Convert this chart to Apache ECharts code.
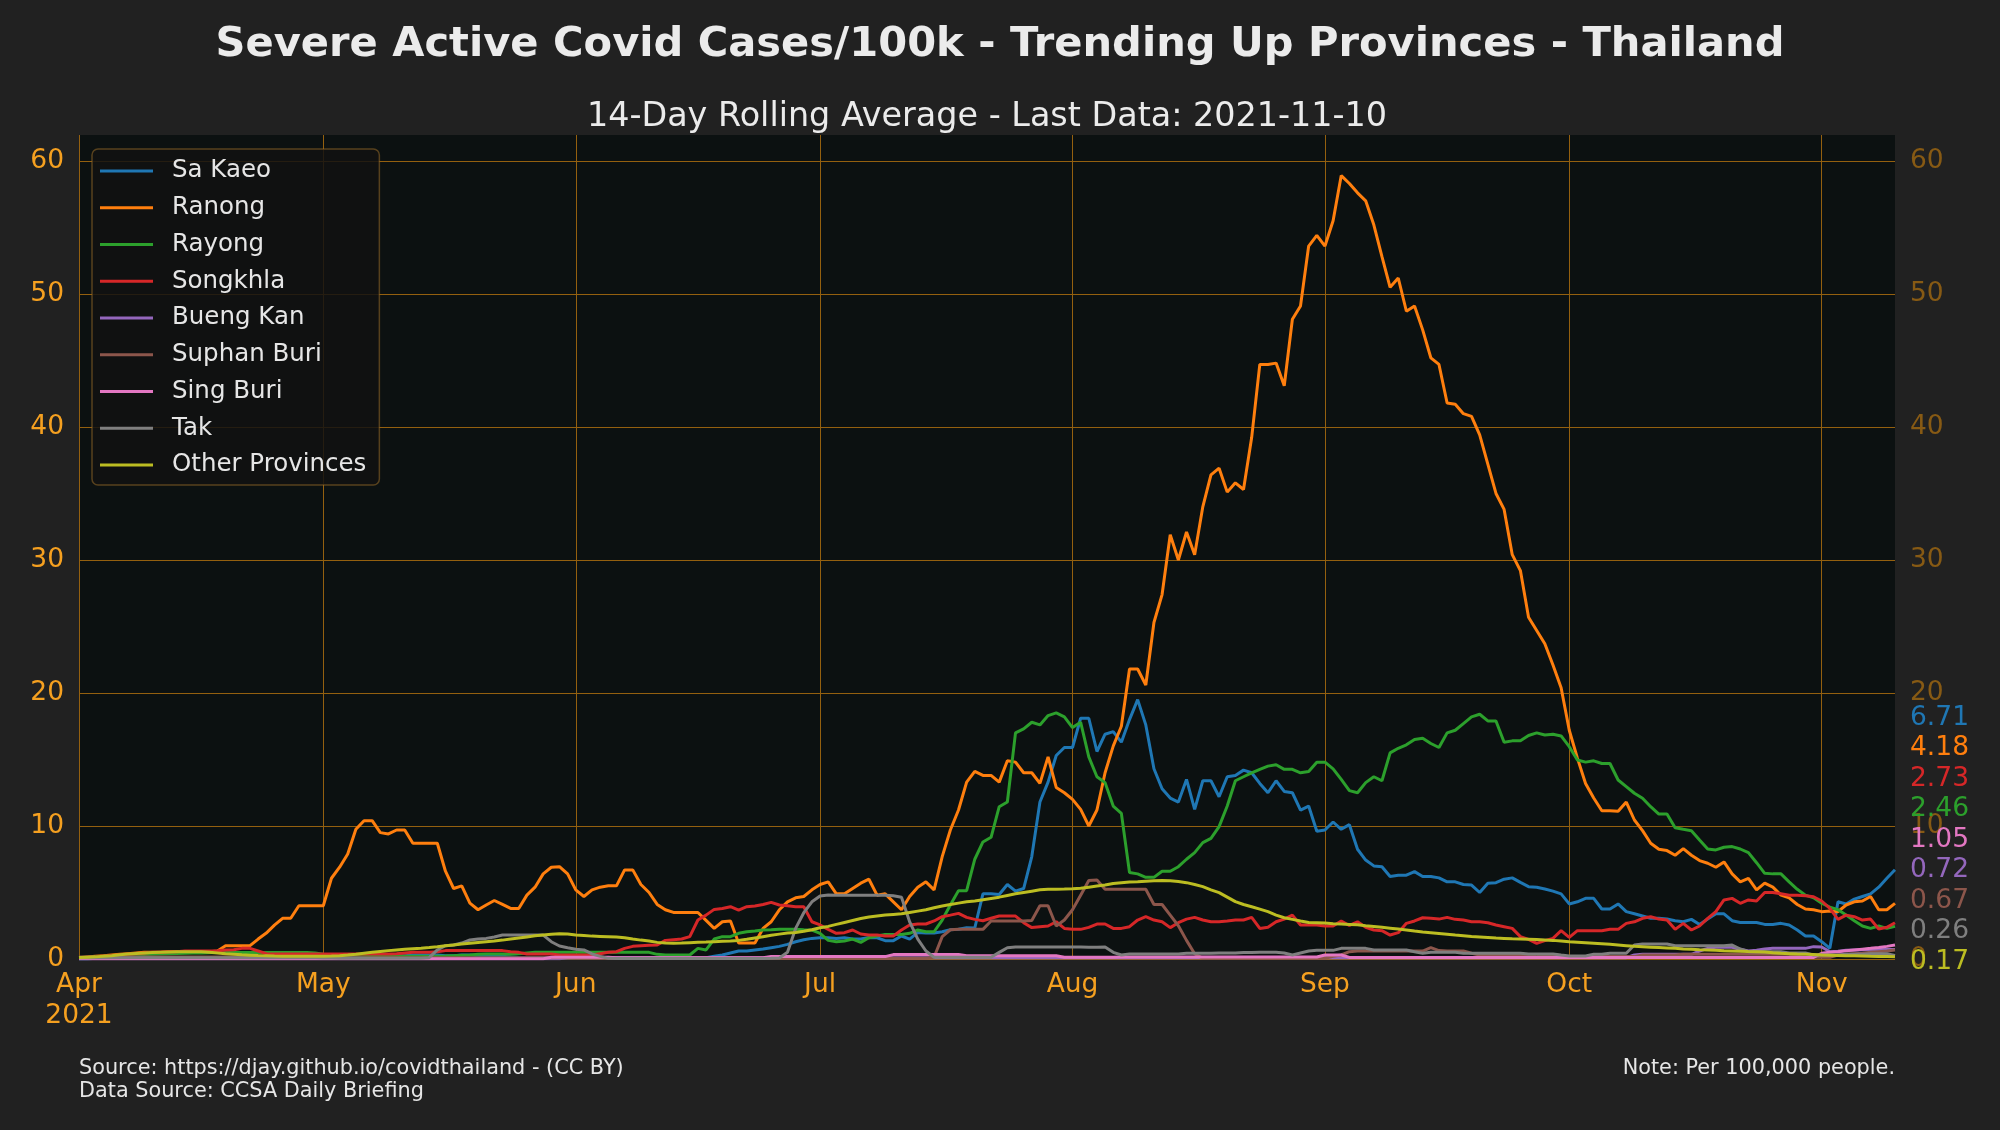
<!DOCTYPE html>
<html>
<head>
<meta charset="utf-8">
<script src="https://cdn.jsdelivr.net/npm/echarts@6/dist/echarts.min.js"></script>
<style>
html,body{margin:0;padding:0;background:#212121;}
#c{width:2000px;height:1130px;}
</style>
</head>
<body>
<div id="c"></div>
<script>
// ---------------- DATA ----------------
const startDate = '2021-04-01';
const dayCount = 224; // 2021-04-01 .. 2021-11-10
const monthStarts = ['2021-04-01','2021-05-01','2021-06-01','2021-07-01','2021-08-01','2021-09-01','2021-10-01','2021-11-01'];
const monthLabels = ['Apr\n2021','May','Jun','Jul','Aug','Sep','Oct','Nov'];
const seriesNames = ['Sa Kaeo','Ranong','Rayong','Songkhla','Bueng Kan','Suphan Buri','Sing Buri','Tak','Other Provinces'];
const seriesColors = ['#1f77b4','#ff7f0e','#2ca02c','#d62728','#9467bd','#8c564b','#e377c2','#7f7f7f','#bcbd22'];

const saKaeo = [
0.0,0.0,0.05,0.05,0.05,0.05,0.05,0.05,0.05,0.05,
0.05,0.05,0.05,0.1,0.1,0.1,0.1,0.1,0.1,0.1,
0.1,0.1,0.1,0.1,0.1,0.1,0.1,0.1,0.1,0.1,
0.1,0.1,0.12,0.15,0.15,0.18,0.2,0.22,0.25,0.25,
0.25,0.3,0.3,0.3,0.3,0.25,0.25,0.3,0.3,0.25,
0.25,0.25,0.2,0.15,0.12,0.1,0.1,0.1,0.1,0.1,
0.1,0.1,0.1,0.1,0.1,0.1,0.1,0.1,0.1,0.1,
0.1,0.1,0.1,0.1,0.05,0.05,0.08,0.1,0.2,0.3,
0.45,0.6,0.6,0.68,0.75,0.85,0.95,1.1,1.3,1.45,
1.55,1.6,1.6,1.55,1.6,1.5,1.5,1.62,1.6,1.38,
1.38,1.73,1.5,2.0,1.95,1.95,2.05,2.2,2.23,2.35,
2.33,4.9,4.9,4.85,5.6,5.1,5.3,7.7,11.8,13.3,
15.3,15.9,15.9,18.1,18.1,15.6,16.9,17.1,16.3,18.0,
19.5,17.6,14.3,12.8,12.1,11.8,13.5,11.25,13.4,13.4,
12.2,13.7,13.8,14.2,14.0,13.2,12.5,13.4,12.6,12.5,
11.2,11.5,9.6,9.7,10.3,9.75,10.1,8.25,7.44,7.0,
6.94,6.2,6.3,6.3,6.57,6.2,6.2,6.1,5.8,5.8,
5.6,5.56,5.0,5.7,5.74,6.0,6.1,5.76,5.44,5.4,
5.26,5.1,4.9,4.14,4.3,4.56,4.56,3.76,3.76,4.14,
3.56,3.4,3.23,3.06,3.06,3.0,2.88,2.8,2.98,2.6,
3.0,3.4,3.4,2.88,2.75,2.75,2.75,2.6,2.6,2.68,
2.55,2.18,1.73,1.73,1.3,0.8,4.3,4.14,4.5,4.7,
4.9,5.4,6.07,6.71];

const ranong = [
0.1,0.15,0.2,0.25,0.3,0.35,0.4,0.45,0.5,0.5,
0.5,0.55,0.55,0.55,0.55,0.55,0.55,0.6,1.0,1.0,
1.0,1.0,1.5,1.95,2.55,3.06,3.06,4.0,4.0,4.0,
4.0,6.07,6.9,7.9,9.75,10.4,10.4,9.5,9.4,9.7,
9.7,8.7,8.7,8.7,8.7,6.6,5.3,5.5,4.2,3.7,
4.06,4.4,4.1,3.8,3.8,4.8,5.4,6.4,6.9,6.94,
6.4,5.2,4.7,5.2,5.4,5.5,5.5,6.7,6.7,5.6,
5.0,4.1,3.7,3.5,3.5,3.5,3.5,2.9,2.3,2.8,
2.85,1.2,1.2,1.2,2.3,2.8,3.7,4.3,4.6,4.7,
5.2,5.6,5.8,4.9,4.9,5.3,5.7,6.0,4.8,4.9,
4.3,3.7,4.7,5.4,5.8,5.2,7.7,9.7,11.2,13.3,
14.1,13.8,13.8,13.3,14.9,14.8,14.0,14.0,13.2,15.2,
12.9,12.5,12.0,11.25,10.0,11.2,14.0,16.0,17.5,21.8,
21.8,20.6,25.3,27.4,31.9,30.0,32.1,30.4,34.0,36.4,
36.9,35.1,35.8,35.3,39.2,44.7,44.7,44.8,43.1,48.1,
49.1,53.6,54.4,53.6,55.5,58.9,58.3,57.6,57.0,55.2,
52.8,50.5,51.2,48.7,49.1,47.3,45.2,44.7,41.8,41.7,
41.0,40.8,39.4,37.2,35.0,33.8,30.4,29.2,25.7,24.7,
23.7,22.1,20.4,17.2,15.1,13.2,12.1,11.15,11.15,11.1,
11.8,10.45,9.65,8.7,8.25,8.15,7.8,8.3,7.8,7.4,
7.2,6.9,7.3,6.4,5.8,6.07,5.2,5.7,5.4,4.8,
4.6,4.1,3.76,3.7,3.56,3.6,3.56,4.06,4.3,4.36,
4.7,3.7,3.7,4.18];

const rayong = [
0.1,0.12,0.15,0.2,0.22,0.25,0.28,0.3,0.33,0.35,
0.38,0.4,0.42,0.44,0.45,0.46,0.47,0.48,0.48,0.48,
0.48,0.48,0.48,0.48,0.48,0.48,0.48,0.48,0.48,0.45,
0.35,0.32,0.3,0.3,0.3,0.28,0.25,0.22,0.2,0.2,
0.2,0.2,0.2,0.2,0.2,0.22,0.25,0.28,0.3,0.35,
0.38,0.38,0.38,0.35,0.4,0.45,0.5,0.5,0.5,0.5,
0.5,0.5,0.5,0.5,0.5,0.5,0.5,0.5,0.5,0.5,
0.5,0.35,0.3,0.3,0.3,0.3,0.8,0.68,1.5,1.68,
1.68,1.93,2.05,2.1,2.18,2.2,2.23,2.23,2.23,2.2,
2.18,1.93,1.4,1.3,1.35,1.5,1.25,1.6,1.73,1.85,
1.85,1.85,1.93,2.18,2.05,2.05,2.93,4.06,5.14,5.14,
7.5,8.8,9.15,11.45,11.8,17.0,17.3,17.8,17.6,18.3,
18.5,18.2,17.4,17.8,15.2,13.7,13.26,11.5,10.95,6.5,
6.4,6.14,6.14,6.6,6.6,6.94,7.5,8.0,8.75,9.07,
9.95,11.5,13.4,13.7,14.0,14.26,14.5,14.6,14.26,14.26,
14.0,14.1,14.8,14.8,14.3,13.5,12.66,12.5,13.26,13.7,
13.4,15.5,15.84,16.1,16.5,16.6,16.2,15.9,17.0,17.2,
17.7,18.2,18.4,17.9,17.9,16.3,16.4,16.4,16.8,17.0,
16.84,16.9,16.77,15.96,14.96,14.8,14.9,14.7,14.7,13.46,
12.96,12.46,12.08,11.45,10.9,10.9,9.87,9.75,9.65,8.95,
8.27,8.2,8.4,8.45,8.27,8.0,7.24,6.44,6.4,6.4,
5.8,5.24,4.8,4.6,4.2,3.9,3.7,3.3,2.88,2.48,
2.3,2.48,2.3,2.46];

const songkhla = [
0.1,0.12,0.15,0.2,0.25,0.3,0.35,0.4,0.45,0.5,
0.5,0.55,0.55,0.6,0.6,0.6,0.6,0.62,0.68,0.7,
0.8,0.8,0.6,0.4,0.38,0.38,0.38,0.38,0.38,0.38,
0.38,0.38,0.38,0.38,0.38,0.38,0.38,0.38,0.38,0.4,
0.45,0.5,0.5,0.5,0.55,0.63,0.63,0.63,0.63,0.63,
0.63,0.63,0.63,0.55,0.5,0.38,0.38,0.38,0.38,0.3,
0.3,0.3,0.3,0.3,0.4,0.5,0.55,0.8,0.95,1.0,
1.03,1.05,1.4,1.45,1.5,1.68,2.93,3.3,3.73,3.8,
3.93,3.68,3.93,3.98,4.1,4.26,4.06,4.0,3.93,3.93,
2.8,2.56,2.23,1.93,1.98,2.18,1.88,1.8,1.8,1.73,
1.73,2.18,2.56,2.63,2.63,2.86,3.18,3.3,3.43,3.13,
2.98,2.88,3.06,3.23,3.23,3.23,2.73,2.36,2.43,2.48,
2.8,2.3,2.23,2.23,2.38,2.63,2.63,2.3,2.3,2.43,
2.93,3.18,2.93,2.8,2.36,2.73,3.0,3.13,2.93,2.8,
2.8,2.86,2.93,2.93,3.13,2.3,2.38,2.8,3.0,3.3,
2.56,2.56,2.56,2.48,2.48,2.86,2.52,2.8,2.38,2.18,
2.13,1.8,1.98,2.68,2.86,3.1,3.06,3.0,3.13,2.98,
2.93,2.8,2.8,2.73,2.56,2.43,2.3,1.68,1.48,1.18,
1.38,1.55,2.13,1.63,2.13,2.13,2.13,2.13,2.23,2.23,
2.68,2.8,3.06,3.18,3.0,2.93,2.23,2.68,2.18,2.48,
3.06,3.56,4.44,4.56,4.19,4.44,4.36,5.0,5.0,4.9,
4.8,4.8,4.76,4.68,4.36,3.8,2.98,3.3,3.18,2.93,
3.0,2.26,2.38,2.73];

const buengKan = [
0.02,0.02,0.02,0.02,0.02,0.02,0.02,0.02,0.02,0.02,
0.02,0.02,0.02,0.02,0.02,0.02,0.02,0.02,0.02,0.02,
0.02,0.02,0.02,0.02,0.02,0.02,0.02,0.02,0.02,0.02,
0.02,0.02,0.02,0.02,0.02,0.02,0.02,0.02,0.02,0.02,
0.02,0.02,0.02,0.02,0.02,0.02,0.02,0.02,0.02,0.02,
0.02,0.02,0.02,0.02,0.02,0.02,0.02,0.02,0.02,0.02,
0.1,0.1,0.1,0.1,0.1,0.1,0.1,0.1,0.1,0.1,
0.1,0.1,0.1,0.1,0.1,0.1,0.1,0.1,0.1,0.1,
0.1,0.1,0.1,0.1,0.1,0.1,0.1,0.1,0.1,0.1,
0.1,0.1,0.1,0.1,0.1,0.1,0.1,0.1,0.1,0.1,
0.1,0.1,0.1,0.1,0.1,0.1,0.1,0.1,0.1,0.1,
0.1,0.1,0.1,0.1,0.1,0.1,0.1,0.1,0.1,0.1,
0.1,0.1,0.1,0.1,0.1,0.1,0.1,0.1,0.1,0.1,
0.1,0.1,0.1,0.1,0.1,0.1,0.1,0.1,0.1,0.1,
0.1,0.1,0.1,0.1,0.1,0.1,0.1,0.1,0.1,0.1,
0.1,0.1,0.1,0.1,0.1,0.1,0.1,0.1,0.1,0.1,
0.1,0.1,0.1,0.1,0.1,0.1,0.1,0.1,0.1,0.1,
0.1,0.1,0.1,0.1,0.1,0.1,0.1,0.1,0.1,0.1,
0.1,0.1,0.1,0.1,0.1,0.1,0.1,0.1,0.1,0.1,
0.1,0.3,0.35,0.35,0.35,0.35,0.35,0.35,0.35,0.6,
0.8,0.88,0.88,0.88,0.73,0.6,0.65,0.75,0.8,0.8,
0.8,0.8,0.8,0.93,0.9,0.55,0.58,0.65,0.68,0.7,
0.72,0.72,0.72,0.72];

const suphanBuri = [
0.15,0.15,0.15,0.15,0.15,0.15,0.15,0.15,0.15,0.15,
0.15,0.15,0.15,0.15,0.15,0.15,0.15,0.15,0.15,0.15,
0.15,0.15,0.15,0.15,0.15,0.15,0.15,0.15,0.15,0.15,
0.1,0.1,0.1,0.1,0.1,0.1,0.1,0.1,0.1,0.1,
0.1,0.1,0.1,0.1,0.1,0.1,0.1,0.1,0.1,0.1,
0.1,0.1,0.1,0.1,0.1,0.1,0.1,0.1,0.1,0.1,
0.1,0.05,0.05,0.05,0.05,0.05,0.05,0.05,0.05,0.05,
0.05,0.05,0.05,0.05,0.05,0.05,0.05,0.05,0.05,0.05,
0.05,0.05,0.05,0.05,0.05,0.05,0.05,0.05,0.05,0.05,
0.05,0.05,0.05,0.05,0.05,0.05,0.05,0.05,0.05,0.05,
0.05,0.05,0.05,0.05,0.05,0.13,1.68,2.2,2.23,2.23,
2.23,2.23,2.86,2.86,2.86,2.86,2.86,2.9,4.0,4.0,
2.48,2.93,3.7,4.8,5.9,5.94,5.24,5.24,5.24,5.24,
5.24,5.24,4.1,4.1,3.3,2.5,1.4,0.4,0.05,0.05,
0.05,0.05,0.05,0.05,0.05,0.05,0.05,0.05,0.05,0.05,
0.05,0.05,0.05,0.05,0.2,0.3,0.55,0.6,0.6,0.6,
0.6,0.6,0.6,0.6,0.6,0.6,0.85,0.63,0.6,0.6,
0.6,0.43,0.3,0.3,0.3,0.3,0.3,0.3,0.3,0.18,
0.18,0.18,0.18,0.18,0.18,0.18,0.18,0.18,0.18,0.18,
0.18,0.18,0.3,0.3,0.3,0.3,0.3,0.35,0.35,0.35,
0.35,0.35,0.35,0.35,0.35,0.35,0.35,0.35,0.35,0.35,
0.35,0.2,0.13,0.13,0.13,0.13,0.3,0.35,0.4,0.43,
0.5,0.55,0.6,0.67];

const singBuri = [
0.02,0.02,0.02,0.02,0.02,0.02,0.02,0.02,0.02,0.02,
0.02,0.02,0.02,0.02,0.02,0.02,0.02,0.02,0.02,0.02,
0.02,0.02,0.02,0.02,0.02,0.02,0.02,0.02,0.02,0.02,
0.02,0.02,0.02,0.02,0.02,0.02,0.02,0.02,0.02,0.02,
0.02,0.02,0.02,0.02,0.02,0.02,0.02,0.02,0.02,0.02,
0.02,0.02,0.02,0.02,0.02,0.02,0.02,0.02,0.13,0.13,
0.13,0.13,0.13,0.13,0.13,0.13,0.1,0.1,0.1,0.1,
0.1,0.1,0.1,0.1,0.1,0.1,0.1,0.1,0.1,0.1,
0.1,0.1,0.1,0.1,0.1,0.18,0.18,0.18,0.18,0.18,
0.18,0.18,0.18,0.18,0.18,0.18,0.18,0.18,0.18,0.18,
0.33,0.33,0.33,0.33,0.33,0.33,0.33,0.33,0.33,0.25,
0.25,0.25,0.25,0.25,0.25,0.25,0.25,0.25,0.25,0.25,
0.25,0.13,0.13,0.13,0.13,0.13,0.13,0.13,0.15,0.15,
0.15,0.15,0.15,0.15,0.15,0.15,0.15,0.15,0.15,0.15,
0.15,0.15,0.15,0.15,0.15,0.15,0.15,0.15,0.15,0.15,
0.15,0.15,0.15,0.3,0.3,0.3,0.12,0.12,0.12,0.12,
0.12,0.12,0.12,0.12,0.12,0.12,0.12,0.12,0.12,0.12,
0.12,0.12,0.12,0.12,0.12,0.12,0.12,0.12,0.12,0.12,
0.12,0.12,0.12,0.12,0.12,0.12,0.12,0.12,0.12,0.12,
0.12,0.12,0.12,0.12,0.12,0.12,0.12,0.12,0.12,0.12,
0.12,0.12,0.12,0.12,0.12,0.12,0.12,0.12,0.12,0.12,
0.12,0.12,0.12,0.12,0.43,0.5,0.55,0.62,0.68,0.74,
0.8,0.87,0.95,1.05];

const tak = [
0.1,0.1,0.1,0.1,0.1,0.1,0.1,0.1,0.1,0.1,
0.1,0.1,0.1,0.1,0.1,0.1,0.1,0.1,0.1,0.1,
0.1,0.1,0.1,0.1,0.1,0.1,0.1,0.1,0.1,0.1,
0.08,0.08,0.06,0.06,0.05,0.05,0.05,0.05,0.05,0.05,
0.05,0.05,0.05,0.1,0.68,1.0,1.05,1.2,1.43,1.5,
1.55,1.65,1.8,1.8,1.8,1.8,1.8,1.8,1.3,0.98,
0.85,0.73,0.68,0.38,0.2,0.05,0.03,0.03,0.03,0.03,
0.03,0.03,0.03,0.03,0.03,0.03,0.03,0.03,0.03,0.03,
0.03,0.03,0.03,0.03,0.03,0.05,0.08,0.5,2.3,3.48,
4.3,4.74,4.81,4.8,4.8,4.8,4.8,4.8,4.8,4.8,
4.75,4.64,2.8,1.5,0.6,0.13,0.13,0.13,0.13,0.13,
0.13,0.13,0.13,0.5,0.85,0.9,0.9,0.9,0.9,0.9,
0.9,0.9,0.9,0.9,0.88,0.88,0.9,0.5,0.3,0.38,
0.38,0.38,0.38,0.38,0.38,0.38,0.43,0.43,0.43,0.43,
0.45,0.45,0.45,0.48,0.48,0.5,0.5,0.5,0.45,0.3,
0.45,0.6,0.65,0.65,0.65,0.8,0.8,0.8,0.8,0.68,
0.68,0.68,0.68,0.68,0.55,0.43,0.5,0.5,0.5,0.5,
0.43,0.43,0.43,0.43,0.43,0.43,0.43,0.43,0.38,0.38,
0.38,0.38,0.3,0.23,0.23,0.23,0.35,0.35,0.43,0.43,
0.43,1.05,1.13,1.13,1.13,1.13,1.0,1.0,1.0,1.0,
1.0,1.0,1.0,1.05,0.75,0.55,0.55,0.55,0.55,0.55,
0.45,0.45,0.45,0.3,0.3,0.3,0.3,0.35,0.35,0.35,
0.4,0.4,0.4,0.26];

const otherProvinces = [
0.12,0.14,0.16,0.2,0.25,0.32,0.38,0.42,0.46,0.49,
0.51,0.53,0.54,0.55,0.55,0.54,0.5,0.45,0.4,0.36,
0.32,0.29,0.26,0.24,0.22,0.21,0.2,0.2,0.2,0.2,
0.21,0.22,0.25,0.3,0.36,0.43,0.5,0.57,0.63,0.68,
0.73,0.77,0.81,0.86,0.92,0.99,1.06,1.12,1.18,1.24,
1.3,1.35,1.42,1.5,1.58,1.66,1.74,1.8,1.86,1.9,
1.88,1.8,1.76,1.72,1.7,1.68,1.65,1.6,1.5,1.42,
1.35,1.25,1.2,1.18,1.2,1.23,1.25,1.27,1.3,1.33,
1.36,1.4,1.48,1.58,1.68,1.78,1.87,1.95,2.0,2.08,
2.2,2.35,2.45,2.6,2.75,2.9,3.05,3.15,3.23,3.3,
3.35,3.4,3.5,3.6,3.7,3.85,3.98,4.1,4.2,4.3,
4.36,4.45,4.55,4.65,4.78,4.9,5.0,5.1,5.2,5.24,
5.25,5.26,5.28,5.32,5.4,5.48,5.56,5.68,5.74,5.78,
5.81,5.85,5.88,5.9,5.88,5.82,5.74,5.6,5.44,5.2,
4.99,4.65,4.31,4.1,3.93,3.75,3.56,3.3,3.1,2.98,
2.86,2.75,2.73,2.7,2.65,2.63,2.6,2.57,2.5,2.44,
2.38,2.32,2.25,2.18,2.1,2.03,1.98,1.92,1.86,1.8,
1.75,1.7,1.66,1.62,1.57,1.55,1.52,1.5,1.48,1.46,
1.43,1.4,1.35,1.3,1.26,1.22,1.18,1.14,1.1,1.05,
1.0,0.95,0.92,0.89,0.86,0.83,0.8,0.76,0.73,0.7,
0.68,0.65,0.62,0.6,0.58,0.56,0.55,0.52,0.47,0.43,
0.4,0.37,0.35,0.33,0.3,0.29,0.27,0.25,0.24,0.22,
0.2,0.19,0.18,0.17];

const yTickValues = [0,10,20,30,40,50,60];
const titleText = 'Severe Active Covid Cases/100k - Trending Up Provinces - Thailand';
const subtitleText = '14-Day Rolling Average - Last Data: 2021-11-10';
const footLeft1 = 'Source: https://djay.github.io/covidthailand - (CC BY)';
const footLeft2 = 'Data Source: CCSA Daily Briefing';
const footRight = 'Note: Per 100,000 people.';

// ---------------- BUILD ----------------
const seriesData = [saKaeo, ranong, rayong, songkhla, buengKan, suphanBuri, singBuri, tak, otherProvinces];
const dates = [];
{
  const d0 = new Date(startDate + 'T00:00:00Z');
  for (let i = 0; i < dayCount; i++) {
    const d = new Date(d0.getTime() + i * 86400000);
    dates.push(d.toISOString().slice(0, 10));
  }
}
const isMonthStart = (v) => monthStarts.indexOf(v) >= 0;
const FONT = '"DejaVu Sans", "Noto Sans", sans-serif';
const PLOT_L = 79, PLOT_R = 1895, PLOT_T = 135, PLOT_B = 959;

const chart = echarts.init(document.getElementById('c'), null, {renderer: 'canvas'});
const option = {
  animation: false,
  backgroundColor: '#212121',
  textStyle: {fontFamily: FONT},
  title: [
    {text: titleText, left: 1000, top: 24, textAlign: 'center', padding: 0,
     textStyle: {color: '#ebebeb', fontSize: 41.6, fontWeight: 'bold', lineHeight: 41.6, fontFamily: FONT}},
    {text: subtitleText, left: (PLOT_L + PLOT_R) / 2, top: 101, textAlign: 'center', padding: 0,
     textStyle: {color: '#ebebeb', fontSize: 33.4, fontWeight: 'normal', lineHeight: 33.4, fontFamily: FONT}},
    {text: footLeft1, left: PLOT_L, top: 1058, padding: 0,
     textStyle: {color: '#e6e6e6', fontSize: 20.8, fontWeight: 'normal', lineHeight: 20.8, fontFamily: FONT}},
    {text: footLeft2, left: PLOT_L, top: 1081, padding: 0,
     textStyle: {color: '#e6e6e6', fontSize: 20.8, fontWeight: 'normal', lineHeight: 20.8, fontFamily: FONT}},
    {text: footRight, right: 2000 - PLOT_R, top: 1058, padding: 0,
     textStyle: {color: '#e6e6e6', fontSize: 20.8, fontWeight: 'normal', lineHeight: 20.8, fontFamily: FONT}}
  ],
  grid: {left: PLOT_L, right: 2000 - PLOT_R, top: PLOT_T, bottom: 1130 - PLOT_B,
         show: true, backgroundColor: '#0c1111', borderWidth: 0, containLabel: false},
  legend: {
    orient: 'vertical', left: 92, top: 149,
    padding: [7, 13, 5, 8],
    itemGap: 6.75, itemWidth: 53, itemHeight: 3, icon: 'rect',
    backgroundColor: 'rgba(18,18,18,0.85)', borderColor: 'rgba(150,105,40,0.55)',
    borderWidth: 1.5, borderRadius: 6,
    textStyle: {color: '#e6e6e6', fontSize: 24.5, lineHeight: 30, padding: [0, 0, 0, 14], fontFamily: FONT},
    data: seriesNames
  },
  xAxis: {
    type: 'category', data: dates, boundaryGap: false,
    axisLine: {show: false}, axisTick: {show: false},
    axisLabel: {
      interval: (i, v) => isMonthStart(v),
      formatter: (v) => { const k = monthStarts.indexOf(v); return k >= 0 ? monthLabels[k] : ''; },
      color: '#f5a020', fontSize: 26.5, lineHeight: 31, margin: 11, fontFamily: FONT
    },
    splitLine: {show: true, interval: (i, v) => isMonthStart(v), lineStyle: {color: '#94600f', width: 1}}
  },
  yAxis: [
    {type: 'value', position: 'left', min: 0, max: 61.95, interval: 10,
     axisLine: {show: false}, axisTick: {show: false},
     axisLabel: {color: '#f5a020', fontSize: 26.5, margin: 15, showMaxLabel: false, fontFamily: FONT,
                 formatter: (v) => yTickValues.indexOf(v) >= 0 ? String(v) : ''},
     splitLine: {show: true, showMaxLine: false, lineStyle: {color: '#94600f', width: 1}}},
    {type: 'value', position: 'right', min: 0, max: 61.95, interval: 10,
     axisLine: {show: false}, axisTick: {show: false},
     axisLabel: {color: '#875a14', fontSize: 26.5, margin: 15, showMaxLabel: false, fontFamily: FONT,
                 formatter: (v) => yTickValues.indexOf(v) >= 0 ? String(v) : ''},
     splitLine: {show: false}}
  ],
  series: seriesNames.map((n, i) => ({
    name: n, type: 'line', data: seriesData[i], yAxisIndex: 0,
    symbol: 'none', showSymbol: false, smooth: false,
    lineStyle: {color: seriesColors[i], width: 3},
    itemStyle: {color: seriesColors[i]},
    emphasis: {disabled: true}
  }))
};
chart.setOption(option);

// end-of-line value labels, stacked upward to avoid overlap
const ends = seriesData.map((d, i) => ({v: d[d.length - 1], c: seriesColors[i]}));
ends.sort((a, b) => a.v - b.v);
let prevY = null;
const labels = [];
ends.forEach((o) => {
  let y = chart.convertToPixel({yAxisIndex: 0}, o.v) + 5;
  if (prevY !== null && y > prevY - 30.5) y = prevY - 30.5;
  prevY = y;
  labels.push({type: 'text', x: PLOT_R + 15, y: y, z: 100,
    style: {text: o.v.toFixed(2), fill: o.c, fontSize: 26.5, fontFamily: FONT, align: 'left', verticalAlign: 'middle'}});
});
chart.setOption({graphic: labels});
</script>
</body>
</html>
